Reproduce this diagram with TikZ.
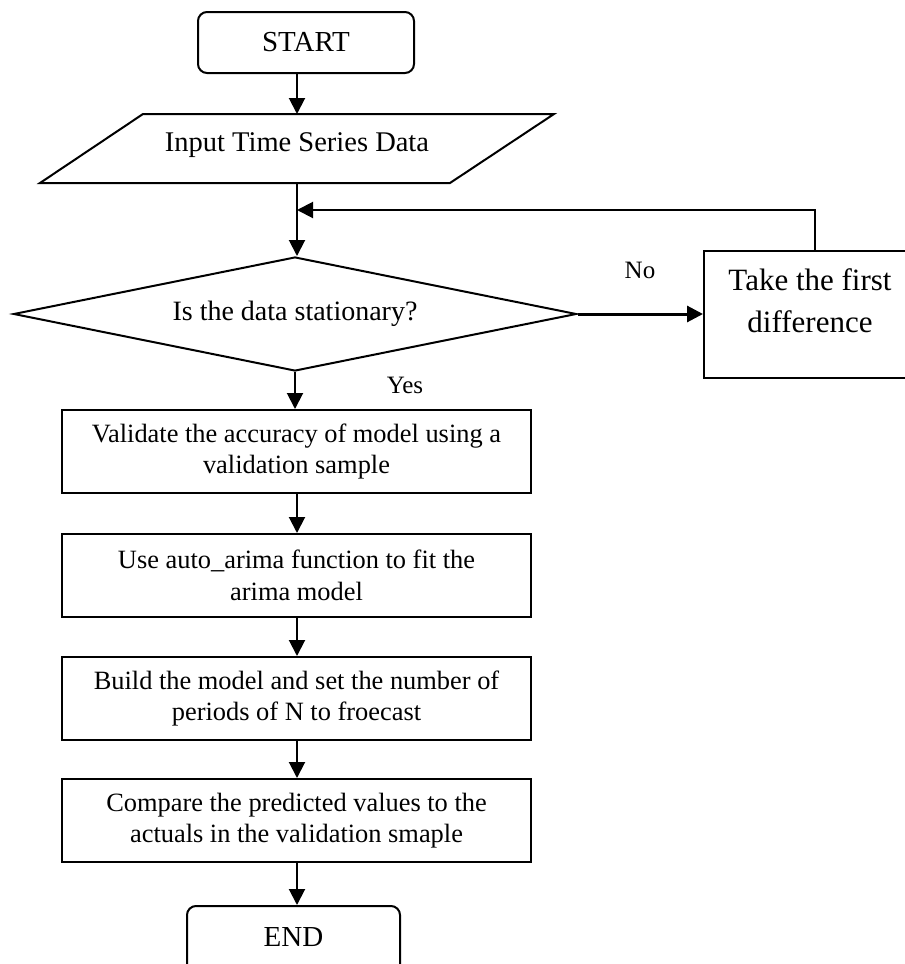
\documentclass[tikz,border=0pt]{standalone}
\usepackage{fontspec}
\setmainfont{Liberation Serif}
\usetikzlibrary{arrows.meta,shapes.geometric}
\tikzset{
  ln/.style={line width=2pt},
  arr/.style={line width=2pt,-{Triangle[length=16pt,width=16pt]}},
  proc/.style={draw,line width=2pt,minimum width=469pt,minimum height=83pt,
    align=center,inner sep=0pt,font=\fontsize{26.4}{31.7}\selectfont},
  term/.style={draw,line width=2pt,rounded corners=9pt,minimum height=61pt,
    inner sep=0pt,font=\fontsize{29}{34}\selectfont},
  lbl/.style={inner sep=0pt,font=\fontsize{25}{30}\selectfont}
}
\begin{document}
\begin{tikzpicture}[x=1pt,y=-1pt]
\useasboundingbox (0,0) rectangle (905,964);
\clip (0,0) rectangle (905,964);
\fill[white] (0,0) rectangle (905,964);

\coordinate (sp) at (297,0);
\coordinate (inTop) at (297,114);
\coordinate (inBot) at (297,183);
\coordinate (fb) at (815,210);

% terminals
\node[term,minimum width=216pt] (start) at (306,42.5) {START};
\node[term,minimum width=213pt,minimum height=74pt] (end) at (293.5,943) {\raisebox{13pt}{END}};

% input parallelogram
\draw[ln] (40,183) -- (143,114) -- (554,114) -- (450,183) -- cycle;
\node[inner sep=0pt,font=\fontsize{28.5}{34}\selectfont] (input) at (297,145) {Input Time Series Data};

% decision
\node[draw,diamond,line width=2pt,minimum width=563pt,minimum height=114pt,
  aspect=4.94,inner sep=0pt,font=\fontsize{28}{33}\selectfont] (dec) at (295,314) {Is the data stationary?};

% difference box
\node[draw,line width=2pt,minimum width=203pt,minimum height=127pt,inner sep=0pt] (diff) at (805.5,314.5) {};
\node[align=center,inner sep=0pt,font=\fontsize{31}{42}\selectfont] (difftext) at (810,300.5) {Take the first\\difference};

% process boxes
\node[proc] (b1) at (296.5,451.5) {Validate the accuracy of model using a\\validation sample};
\node[proc] (b2) at (296.5,575.5) {Use auto\_arima function to fit the\\arima model};
\node[proc] (b3) at (296.5,698.5) {Build the model and set the number of\\periods of N to froecast};
\node[proc] (b4) at (296.5,820.5) {Compare the predicted values to the\\actuals in the validation smaple};

% labels
\node[lbl] (no) at (640,270) {No};
\node[lbl] (yes) at (405,385) {Yes};

% connectors
\draw[arr] (start.south -| inTop) -- (inTop);
\draw[arr] (inBot) -- (inBot |- dec.north);
\draw[arr] (diff.north -| fb) -- (fb) -- (fb -| inBot);
\draw[arr,line width=3pt] (dec.east) -- (dec.east -| diff.west);
\draw[arr] (dec.south) -- (dec.south |- b1.north);
\draw[arr] (b1.south -| sp) -- (b2.north -| sp);
\draw[arr] (b2.south -| sp) -- (b3.north -| sp);
\draw[arr] (b3.south -| sp) -- (b4.north -| sp);
\draw[arr] (b4.south -| sp) -- (end.north -| sp);
\end{tikzpicture}
\end{document}
